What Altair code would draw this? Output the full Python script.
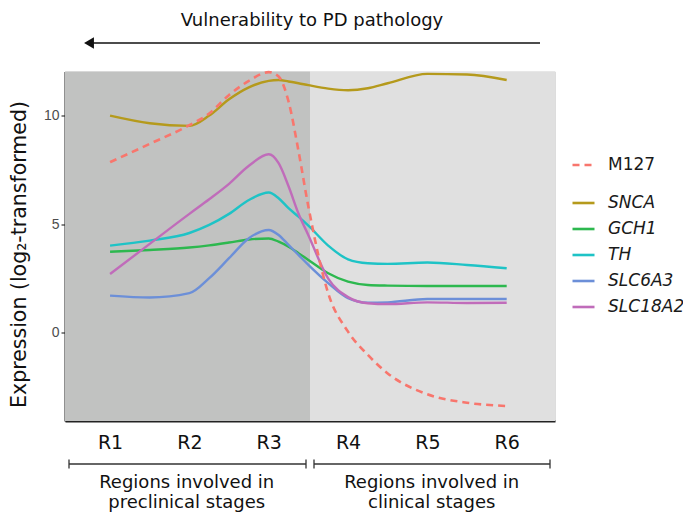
import altair as alt
import pandas as pd

# ---------------- data ----------------
positions = [1, 1.5, 2, 2.25, 2.5, 2.75, 3, 3.125, 3.25, 3.375, 3.5, 3.75, 4, 4.25, 4.5, 5, 5.5, 6]
region_labels = ["R1", "R2", "R3", "R4", "R5", "R6"]

m127 = [7.86, 8.7, 9.56, 10.1, 10.95, 11.6, 12.0, 11.8, 10.65, 8.38, 5.81, 1.83, 0.06, -1.01, -1.86, -2.82, -3.21, -3.36]
snca = [10.0, 9.65, 9.53, 10.0, 10.75, 11.3, 11.6, 11.64, 11.57, 11.49, 11.4, 11.24, 11.17, 11.26, 11.49, 11.92, 11.89, 11.64]
gch1 = [3.74, 3.82, 3.93, 4.03, 4.16, 4.3, 4.35, 4.2, 3.97, 3.67, 3.36, 2.75, 2.36, 2.21, 2.18, 2.16, 2.16, 2.16]
th = [4.02, 4.25, 4.6, 4.97, 5.48, 6.12, 6.46, 6.2, 5.74, 5.35, 4.94, 4.02, 3.39, 3.21, 3.18, 3.24, 3.13, 2.98]
slc6a3 = [1.72, 1.63, 1.83, 2.52, 3.44, 4.36, 4.74, 4.51, 4.05, 3.59, 3.13, 2.29, 1.6, 1.39, 1.41, 1.56, 1.56, 1.56]
slc18a2 = [2.71, 4.1, 5.48, 6.15, 6.86, 7.69, 8.22, 7.81, 6.75, 5.5, 4.5, 2.5, 1.65, 1.37, 1.33, 1.41, 1.38, 1.39]

genes = ["SNCA", "GCH1", "TH", "SLC6A3", "SLC18A2"]
gene_values = [snca, gch1, th, slc6a3, slc18a2]
gene_colors = ["#B59A1C", "#2DB84F", "#1EC3C6", "#6C8FD8", "#C06CBA"]
m127_color = "#F8766D"

title_text = "Vulnerability to PD pathology"
y_title = "Expression (log\u2082-transformed)"
group_lines = [["Regions involved in", "preclinical stages"], ["Regions involved in", "clinical stages"]]

# ---------------- tables ----------------
df_m = pd.DataFrame({"pos": positions, "value": m127, "series": "M127"})
df_g = pd.concat(
    [pd.DataFrame({"pos": positions, "value": v, "gene": g}) for g, v in zip(genes, gene_values)],
    ignore_index=True,
)

W, H = 490, 349.5
FONT = "DejaVu Sans"
one = alt.Data(values=[{}])

x_enc = alt.X(
    "pos:Q",
    scale=alt.Scale(domain=[0.432, 6.609], nice=False, zero=False),
    axis=alt.Axis(
        values=[1, 2, 3, 4, 5, 6],
        labelExpr="['R1','R2','R3','R4','R5','R6'][datum.value - 1]",
        ticks=False, grid=False, title=None,
        labelFont=FONT, labelFontSize=19, labelColor="#111111", labelPadding=12,
        domainColor="#222222", domainWidth=2,
    ),
)
y_enc = alt.Y(
    "value:Q",
    scale=alt.Scale(domain=[-4.05, 12.03], nice=False, zero=False),
    axis=alt.Axis(
        values=[0, 5, 10], grid=False, title=None,
        labelFont="Liberation Sans", labelFontSize=14, labelColor="#4D4D4D",
        tickSize=4, tickColor="#333333", tickWidth=1.2, labelPadding=2,
        domainColor="#222222", domainWidth=2,
    ),
)

bg_dark = alt.Chart(one).mark_rect(color="#C1C2C1").encode(
    x=alt.value(0), x2=alt.value(245), y=alt.value(0), y2=alt.value(H))
bg_light = alt.Chart(one).mark_rect(color="#E0E0E0").encode(
    x=alt.value(245), x2=alt.value(W), y=alt.value(0), y2=alt.value(H))

m_line = alt.Chart(df_m).mark_line(interpolate="monotone", strokeWidth=2.6, color=m127_color).encode(
    x=x_enc, y=y_enc,
    strokeDash=alt.StrokeDash(
        "series:N",
        scale=alt.Scale(domain=["M127"], range=[[7, 5]]),
        legend=alt.Legend(
            orient="none", legendX=506, legendY=81, title=None,
            symbolType="stroke", symbolSize=484, symbolStrokeWidth=2.6,
            symbolStrokeColor=m127_color, labelFont=FONT, labelFontSize=17,
            labelColor="#1a1a1a", labelOffset=12, padding=0,
        ),
    ),
)

g_lines = alt.Chart(df_g).mark_line(interpolate="monotone", strokeWidth=2.4).encode(
    x=x_enc, y=y_enc,
    color=alt.Color(
        "gene:N",
        scale=alt.Scale(domain=genes, range=gene_colors),
        legend=alt.Legend(
            orient="none", legendX=506, legendY=119, title=None,
            symbolType="stroke", symbolSize=484, symbolStrokeWidth=2.6,
            labelFont=FONT, labelFontSize=17, labelFontStyle="italic",
            labelColor="#1a1a1a", labelOffset=12, rowPadding=5, padding=0,
        ),
    ),
    detail="gene:N",
)

# annotations
title = alt.Chart(one).mark_text(font=FONT, fontSize=18, color="#111111", align="center", baseline="middle").encode(
    x=alt.value(247), y=alt.value(-50.5), text=alt.value(title_text))
arrow = alt.Chart(one).mark_rule(color="#111111", strokeWidth=1.6).encode(
    x=alt.value(22), x2=alt.value(475), y=alt.value(-28.5))
arrow_head = alt.Chart(one).mark_point(shape="triangle-left", filled=True, size=130, color="#111111", opacity=1).encode(
    x=alt.value(24), y=alt.value(-28.5))
ytitle = alt.Chart(one).mark_text(font=FONT, fontSize=20.5, color="#111111", angle=270, align="center", baseline="middle").encode(
    x=alt.value(-45), y=alt.value(183), text=alt.value(y_title))

def rule(x1, x2, y1, y2):
    return alt.Chart(one).mark_rule(color="#333333", strokeWidth=1.3).encode(
        x=alt.value(x1), x2=alt.value(x2), y=alt.value(y1), y2=alt.value(y2))

brackets = [
    rule(4, 241, 392.5, 392.5), rule(4, 4, 388, 397), rule(241, 241, 388, 397),
    rule(249, 485, 392.5, 392.5), rule(249, 249, 388, 397), rule(485, 485, 388, 397),
]

def txt(xp, yp, s):
    return alt.Chart(one).mark_text(font=FONT, fontSize=18, color="#111111", align="center", baseline="middle").encode(
        x=alt.value(xp), y=alt.value(yp), text=alt.value(s))

group_text = [
    txt(121.7, 411.2, group_lines[0][0]), txt(121.7, 431.5, group_lines[0][1]),
    txt(366.7, 411.2, group_lines[1][0]), txt(366.7, 431.5, group_lines[1][1]),
]

chart = alt.layer(
    bg_dark, bg_light, g_lines, m_line, title, arrow, arrow_head, ytitle, *brackets, *group_text
).properties(
    width=W, height=H,
    autosize=alt.AutoSizeParams(type="none"),
    padding={"left": 57, "top": 63.5, "right": 128, "bottom": 95},
).configure_view(stroke=None).configure(background="white")

chart.save("out.html", embed_options={"renderer": "svg", "actions": False})
